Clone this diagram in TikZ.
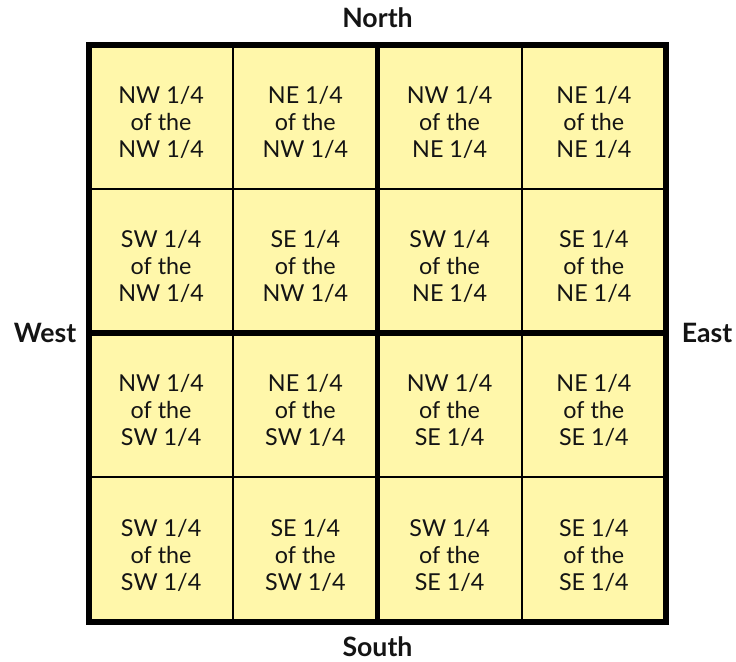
\documentclass[tikz,border=0pt]{standalone}
\usepackage{fontspec}
\setmainfont{Lato}
\usetikzlibrary{positioning}
\definecolor{cellfill}{HTML}{FFF7AA}
\definecolor{ink}{HTML}{141414}

\begin{document}
\begin{tikzpicture}[x=0.75pt,y=-0.75pt,
    cell/.style={align=center,text=ink,font=\fontsize{17.5}{20.25}\selectfont},
    side/.style={text=ink,font=\bfseries\fontsize{20}{22}\selectfont}]
    \useasboundingbox (0,0) rectangle (736,661);
    \fill[cellfill] (89,44.5) rectangle (666,621.5);

    % Grid lines
    \foreach \k in {1,3} {
        \draw[line width=1.6pt] (89+\k*144.25,44.5) -- (89+\k*144.25,621.5);
        \draw[line width=1.6pt] (89,44.5+\k*144.25) -- (666,44.5+\k*144.25);
    }
    \draw[line width=4.2pt] (377.5,44.5) -- (377.5,621.5);
    \draw[line width=4.2pt] (89,333) -- (666,333);
    \draw[line width=4.5pt] (89,44.5) rectangle (666,621.5);

    % Cells
    \foreach \r/\bv/\sv in {1/N/N,2/N/S,3/S/N,4/S/S}
        \foreach \c/\bh/\sh in {1/W/W,2/W/E,3/E/W,4/E/E}
            \node[cell] (c\r\c) at (89+\c*144.25-72.125,44.5+\r*144.25-66.5) {\sv\sh{} 1/4\\of the\\\bv\bh{} 1/4};

    % Directions
    \node[side] (north) at (377.5,18) {North};
    \node[side] (south) at (377.5,647) {South};
    \node[side] (west) at (45,333) {West};
    \node[side] (east) at (707,333) {East};
\end{tikzpicture}
\end{document}
